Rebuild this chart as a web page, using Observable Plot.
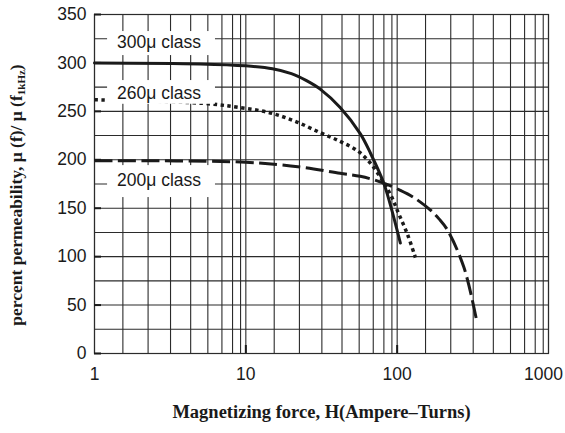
<!DOCTYPE html>
<html>
<head>
<meta charset="utf-8">
<script src="https://cdn.jsdelivr.net/npm/d3@7"></script>
<script src="https://cdn.jsdelivr.net/npm/@observablehq/plot@0.6"></script>
<style>
  html, body { margin: 0; padding: 0; background: #fff; }
</style>
</head>
<body>
<div id="chart"></div>
<script>
// ---- data ----
const h300 = [1, 5, 10, 15, 20, 25, 31, 42, 57, 67, 81, 90, 105];
const mu300 = [300, 299, 297, 294, 289, 282, 273, 254, 227, 206, 177, 154, 114];

const h260 = [1, 3, 6, 9, 14, 21, 31, 42, 55, 67, 81, 93, 100, 117, 132];
const mu260 = [262, 260, 257.5, 254, 249, 240, 228, 219, 209, 196, 177, 160, 148, 123, 99];

const h200 = [1, 10, 23, 42, 57, 78, 105, 129, 166, 189, 214, 276, 335];
const mu200 = [199, 197.5, 192.5, 186, 183, 177, 168.5, 161, 148, 139, 128, 89, 34];

const xTickLabels = [1, 10, 100];
const xLastTick = [1000];
const yTicks = [0, 50, 100, 150, 200, 250, 300, 350];
const yGrid = [25, 50, 75, 100, 125, 150, 175, 200, 225, 250, 275, 300, 325];
const gridSteps = [1.54, 2.26, 3.18, 4.32, 5.61, 6.95, 8.17, 9.23];
const decades = [1, 10, 100];
const innerXTicks = [10, 100];

const labelText = ["300\u03bc class", "260\u03bc class", "200\u03bc class"];
const labelX = [1.41, 1.41, 1.41];
const labelY = [320.8, 269, 179.2];
const boxX1 = [1.22, 1.22, 1.22];
const boxX2 = [6.3, 6.3, 6.3];
const boxY1 = [307.6, 257.3, 161];
const boxY2 = [332.4, 281.8, 194];

const xTitle = "Magnetizing force, H(Ampere\u2013Turns)";

// ---- build tables ----
const toRows = (xs, ys) => xs.map((x, i) => ({x, y: ys[i]}));
const s300 = toRows(h300, mu300);
const s260 = toRows(h260, mu260);
const s200 = toRows(h200, mu200);
const xGrid = decades.flatMap(d => [d, ...gridSteps.map(m => d * m)]).concat([1000]);
const labels = labelText.map((t, i) => ({
  t, x: labelX[i], y: labelY[i], x1: boxX1[i], x2: boxX2[i], y1: boxY1[i], y2: boxY2[i]
}));

const ink = "#1a1a1a";
const gridColor = "#2b2b2b";

const chart = Plot.plot({
  width: 565,
  height: 433,
  marginLeft: 94,
  marginRight: 17,
  marginTop: 14,
  marginBottom: 80,
  style: {fontFamily: "Liberation Sans, Arial, sans-serif", fontSize: "17.5px", color: ink, background: "#fff"},
  x: {type: "log", domain: [1, 1000]},
  y: {domain: [0, 350]},
  marks: [
    Plot.gridX(xGrid, {stroke: gridColor, strokeOpacity: 1, strokeWidth: 1.1}),
    Plot.gridY(yGrid, {stroke: gridColor, strokeOpacity: 1, strokeWidth: 1.1}),
    Plot.frame({stroke: gridColor, strokeWidth: 1.2}),
    Plot.line(s300, {x: "x", y: "y", stroke: ink, strokeWidth: 3, curve: "catmull-rom"}),
    Plot.line(s260, {x: "x", y: "y", stroke: ink, strokeWidth: 3.5, strokeDasharray: "3.5,3.5", strokeLinecap: "butt", curve: "catmull-rom"}),
    Plot.line(s200, {x: "x", y: "y", stroke: ink, strokeWidth: 3, strokeDasharray: "18,5.5", strokeLinecap: "butt", curve: "catmull-rom"}),
    Plot.rect(labels, {x1: "x1", x2: "x2", y1: "y1", y2: "y2", fill: "#fff"}),
    Plot.text(labels, {x: "x", y: "y", text: "t", textAnchor: "start", fontSize: 17.5, fill: ink, style: "letter-spacing:0.4px"}),
    Plot.axisY({ticks: yTicks, tickSize: 0, tickPadding: 8, label: null}),
    Plot.axisY({ticks: yTicks, tickSize: -7, strokeWidth: 2, tickFormat: () => "", label: null}),
    Plot.axisX({ticks: xTickLabels, tickSize: 0, tickPadding: 14, tickFormat: d => String(d), label: null}),
    Plot.axisX({ticks: xLastTick, tickSize: 0, tickPadding: 14, dx: -5, tickFormat: d => String(d), label: null}),
    Plot.axisX({ticks: innerXTicks, tickSize: -8, strokeWidth: 2, tickFormat: () => "", label: null}),
    Plot.text([xTitle], {frameAnchor: "bottom", dy: 64, fontFamily: "Liberation Serif, Times New Roman, serif", fontWeight: "bold", fontSize: 18.5, fill: ink})
  ]
});

document.getElementById("chart").appendChild(chart);

// y-axis title with subscript
const svg = d3.select(chart.tagName.toLowerCase() === "svg" ? chart : chart.querySelector("svg"));
const ylab = svg.append("text")
  .attr("transform", "translate(22,195) rotate(-90)")
  .attr("text-anchor", "middle")
  .attr("font-family", "Liberation Serif, Times New Roman, serif")
  .attr("font-weight", "bold")
  .attr("font-size", 17.5)
  .attr("fill", ink);
ylab.append("tspan").text("percent permeability, \u03bc (f)/ \u03bc (f");
ylab.append("tspan").attr("font-size", 11).attr("dy", 3).text("1kHz");
ylab.append("tspan").attr("dy", -3).text(")");
</script>
</body>
</html>
